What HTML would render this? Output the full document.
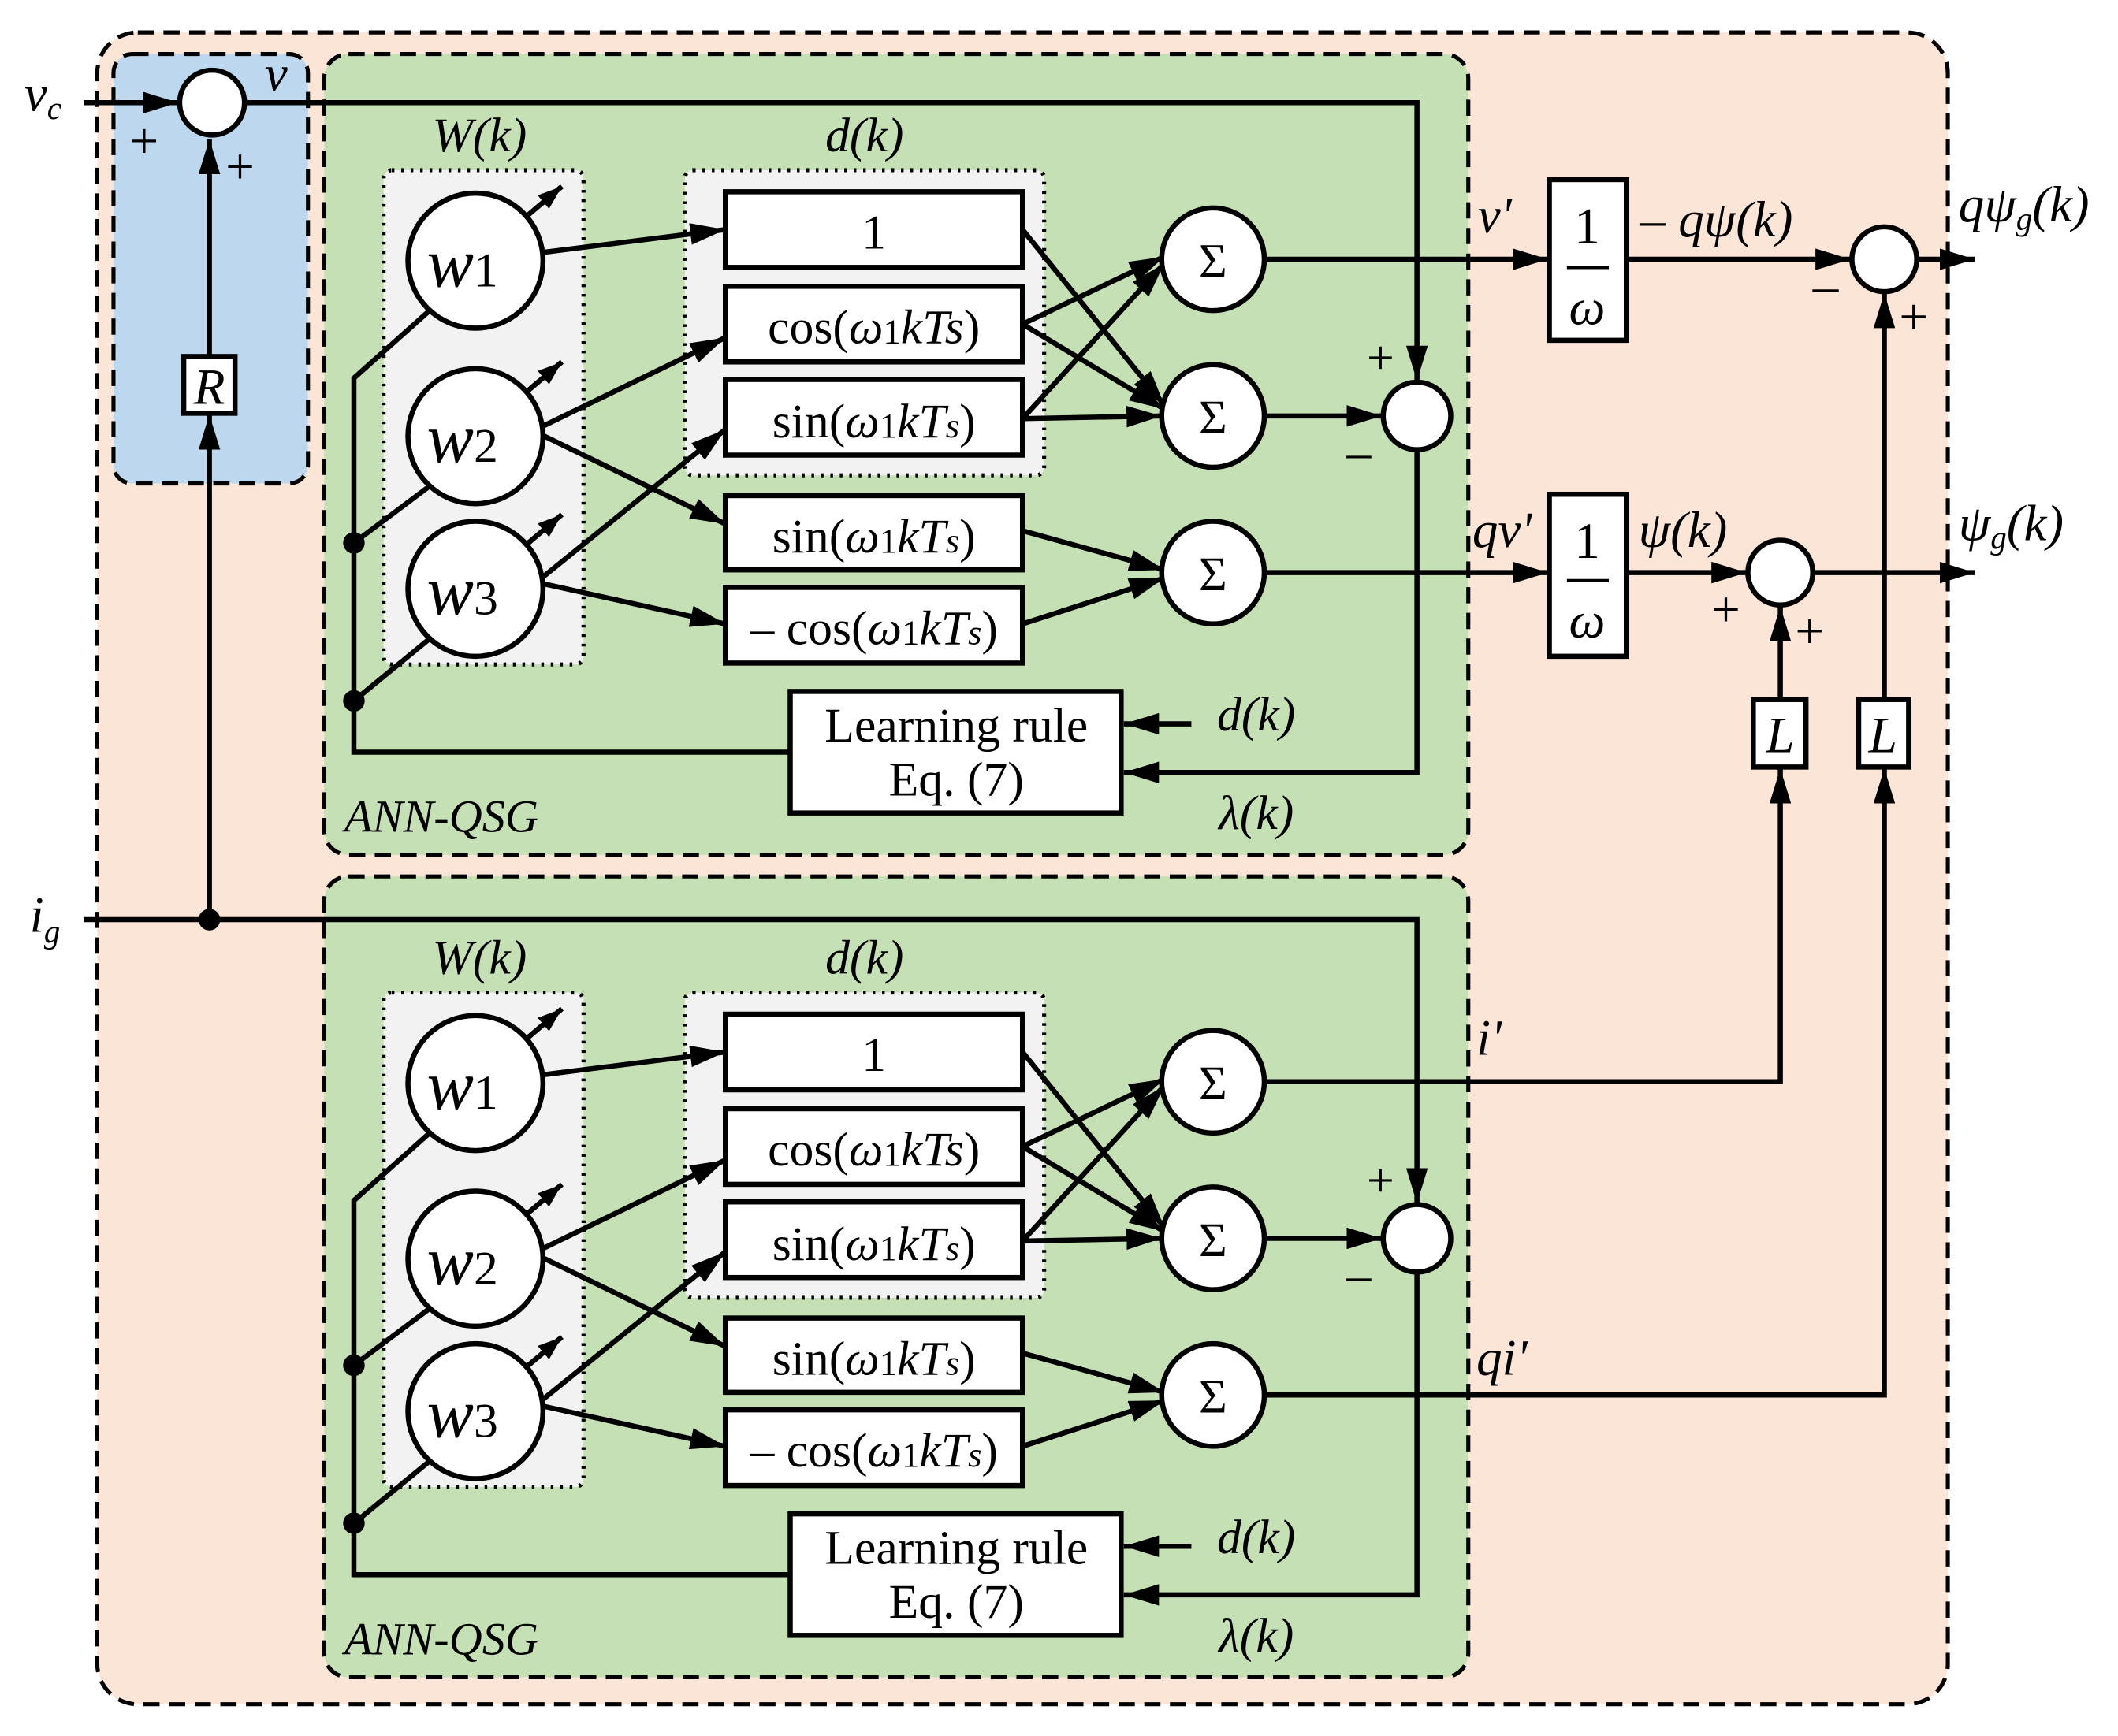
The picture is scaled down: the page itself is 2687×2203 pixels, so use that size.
<!DOCTYPE html>
<html><head><meta charset="utf-8"><style>
html,body{margin:0;padding:0;background:#fff}
svg{display:block}
text{font-family:"Liberation Serif",serif;fill:#000}
.it{font-style:italic}
</style></head><body>
<svg width="2687" height="2203" viewBox="0 0 1568 1285.5" preserveAspectRatio="none" xmlns="http://www.w3.org/2000/svg">
<defs>
<marker id="ar" viewBox="0 0 26 16" refX="26" refY="8" markerWidth="26" markerHeight="16" markerUnits="userSpaceOnUse" orient="auto"><path d="M0,0 L26,8 L0,16 z" fill="#000"/></marker>
<marker id="sm" viewBox="0 0 18 13" refX="18" refY="6.5" markerWidth="18" markerHeight="13" markerUnits="userSpaceOnUse" orient="auto"><path d="M0,0 L18,6.5 L0,13 z" fill="#000"/></marker>
<g id="ann">
  <rect x="240" y="40" width="847" height="593" rx="18" fill="#c5e0b4" stroke="#000" stroke-width="3" stroke-dasharray="12,7"/>
  <text x="355" y="112" font-size="36" class="it" text-anchor="middle">W(k)</text>
  <text x="640" y="112" font-size="36" class="it" text-anchor="middle">d(k)</text>
  <rect x="284" y="126" width="148" height="366" rx="6" fill="#f2f2f2" stroke="#000" stroke-width="3" stroke-dasharray="2,5"/>
  <rect x="507" y="126" width="266" height="226" rx="6" fill="#f2f2f2" stroke="#000" stroke-width="3" stroke-dasharray="2,5"/>
  <g stroke="#000" stroke-width="3.8" fill="none">
    <polyline points="318,230 262,280 262,557 585,557"/>
    <line x1="318" y1="360" x2="262" y2="402"/>
    <line x1="318" y1="473" x2="262" y2="519"/>
    <line x1="401" y1="187" x2="537" y2="170" marker-end="url(#ar)"/>
    <line x1="401" y1="316" x2="537" y2="250" marker-end="url(#ar)"/>
    <line x1="401" y1="322" x2="537" y2="388" marker-end="url(#ar)"/>
    <line x1="401" y1="428" x2="537" y2="318" marker-end="url(#ar)"/>
    <line x1="401" y1="432" x2="537" y2="462" marker-end="url(#ar)"/>
    <line x1="757" y1="170" x2="862" y2="300" marker-end="url(#ar)"/>
    <line x1="757" y1="240" x2="862" y2="190" marker-end="url(#ar)"/>
    <line x1="757" y1="240" x2="862" y2="303" marker-end="url(#ar)"/>
    <line x1="757" y1="310" x2="862" y2="195" marker-end="url(#ar)"/>
    <line x1="757" y1="310" x2="860" y2="308" marker-end="url(#ar)"/>
    <line x1="757" y1="393" x2="862" y2="422" marker-end="url(#ar)"/>
    <line x1="757" y1="462" x2="862" y2="428" marker-end="url(#ar)"/>
    <line x1="936" y1="308" x2="1023" y2="308" marker-end="url(#ar)"/>
    <line x1="882" y1="536" x2="832" y2="536" marker-end="url(#ar)"/>
    <polyline points="1049,333 1049,572 832,572" marker-end="url(#ar)"/>
    <line x1="390" y1="160" x2="416" y2="138" marker-end="url(#sm)"/>
    <line x1="390" y1="290" x2="416" y2="268" marker-end="url(#sm)"/>
    <line x1="390" y1="403" x2="416" y2="381" marker-end="url(#sm)"/>
  </g>
  <g fill="#fff" stroke="#000" stroke-width="3.8">
    <circle cx="352" cy="193" r="50"/><circle cx="352" cy="323" r="50"/><circle cx="352" cy="436" r="50"/>
    <rect x="537" y="142" width="220" height="56"/>
    <rect x="537" y="212" width="220" height="56"/>
    <rect x="537" y="281" width="220" height="56"/>
    <rect x="537" y="367" width="220" height="55"/>
    <rect x="537" y="435" width="220" height="56"/>
    <circle cx="898" cy="192" r="38"/><circle cx="898" cy="308" r="38"/><circle cx="898" cy="424" r="38"/>
    <circle cx="1049" cy="308" r="25"/>
    <rect x="585" y="512" width="245" height="90"/>
  </g>
  <circle cx="262" cy="402" r="8" fill="#000"/><circle cx="262" cy="519" r="8" fill="#000"/>
  <g font-size="52" class="it"><text x="316" y="212">w<tspan font-size="36" font-style="normal">1</tspan></text>
  <text x="316" y="342">w<tspan font-size="36" font-style="normal">2</tspan></text>
  <text x="316" y="455">w<tspan font-size="36" font-style="normal">3</tspan></text></g>
  <g font-size="36" text-anchor="middle">
    <text x="647" y="184">1</text>
    <text x="647" y="254">cos(<tspan class="it">ω</tspan><tspan font-size="26">1</tspan><tspan class="it">kTs</tspan>)</text>
    <text x="647" y="324">sin(<tspan class="it">ω</tspan><tspan font-size="26">1</tspan><tspan class="it">kT<tspan font-size="26">s</tspan></tspan>)</text>
    <text x="647" y="409">sin(<tspan class="it">ω</tspan><tspan font-size="26">1</tspan><tspan class="it">kT<tspan font-size="26">s</tspan></tspan>)</text>
    <text x="647" y="477">– cos(<tspan class="it">ω</tspan><tspan font-size="26">1</tspan><tspan class="it">kT<tspan font-size="26">s</tspan></tspan>)</text>
    <text x="898" y="205">Σ</text><text x="898" y="321">Σ</text><text x="898" y="437">Σ</text>
    <text x="708" y="549">Learning rule</text>
    <text x="708" y="589">Eq. (7)</text>
    <text x="930" y="541" class="it">d(k)</text>
    <text x="930" y="614" class="it">λ(k)</text>
    <text x="1022" y="277">+</text>
    <text x="1006" y="347">–</text>
  </g>
  <text x="255" y="616" font-size="34" class="it">ANN-QSG</text>
</g>
</defs>
<rect x="72" y="24" width="1370" height="1238" rx="30" fill="#fbe5d6" stroke="#000" stroke-width="3" stroke-dasharray="12,7"/>
<rect x="84" y="40" width="144" height="318" rx="14" fill="#bdd7ee" stroke="#000" stroke-width="3" stroke-dasharray="12,7"/>
<use href="#ann"/>
<use href="#ann" transform="translate(0,609)"/>
<g stroke="#000" stroke-width="3.8" fill="none">
  <line x1="62" y1="76" x2="132" y2="76" marker-end="url(#ar)"/>
  <polyline points="181,76 1049,76 1049,282" marker-end="url(#ar)"/>
  <line x1="155" y1="264" x2="155" y2="103" marker-end="url(#ar)"/>
  <line x1="155" y1="681" x2="155" y2="307" marker-end="url(#ar)"/>
  <polyline points="62,681 1049,681 1049,891" marker-end="url(#ar)"/>
  <line x1="936" y1="192" x2="1146" y2="192" marker-end="url(#ar)"/>
  <line x1="936" y1="424" x2="1146" y2="424" marker-end="url(#ar)"/>
  <line x1="1204" y1="192" x2="1370" y2="192" marker-end="url(#ar)"/>
  <line x1="1419" y1="192" x2="1462" y2="192" marker-end="url(#ar)"/>
  <line x1="1204" y1="424" x2="1293" y2="424" marker-end="url(#ar)"/>
  <line x1="1342" y1="424" x2="1462" y2="424" marker-end="url(#ar)"/>
  <line x1="1318" y1="518" x2="1318" y2="449" marker-end="url(#ar)"/>
  <line x1="1395" y1="518" x2="1395" y2="217" marker-end="url(#ar)"/>
  <polyline points="936,801 1318,801 1318,569" marker-end="url(#ar)"/>
  <polyline points="936,1033 1395,1033 1395,569" marker-end="url(#ar)"/>
</g>
<circle cx="155" cy="681" r="8" fill="#000"/>
<g fill="#fff" stroke="#000" stroke-width="3.8">
  <circle cx="157" cy="76" r="24"/>
  <rect x="136" y="264" width="38" height="42"/>
  <rect x="1147" y="133" width="57" height="119"/>
  <rect x="1147" y="366" width="57" height="120"/>
  <circle cx="1395" cy="192" r="24"/>
  <circle cx="1318" cy="424" r="24"/>
  <rect x="1298" y="518" width="39" height="50"/>
  <rect x="1376" y="518" width="37" height="50"/>
</g>
<g stroke="#000" stroke-width="2.5"><line x1="1160" y1="198" x2="1191" y2="198"/><line x1="1160" y1="430" x2="1191" y2="430"/></g>
<g font-size="38">
  <text x="18" y="82" class="it">v<tspan font-size="24" dy="6">c</tspan></text>
  <text x="196" y="67" class="it">v</text>
  <text x="96" y="117">+</text><text x="167" y="136">+</text>
  <text x="155" y="299" class="it" text-anchor="middle">R</text>
  <text x="22" y="690" class="it">i<tspan font-size="24" dy="8">g</tspan></text>
  <text x="1094" y="172" class="it">v'</text>
  <text x="1090" y="405" class="it">qv'</text>
  <text x="1093" y="781" class="it">i'</text>
  <text x="1093" y="1018" class="it">qi'</text>
  <text x="1175" y="180" text-anchor="middle">1</text>
  <text x="1175" y="240" class="it" text-anchor="middle">ω</text>
  <text x="1175" y="413" text-anchor="middle">1</text>
  <text x="1175" y="472" class="it" text-anchor="middle">ω</text>
  <text x="1214" y="175">– <tspan class="it">qψ(k)</tspan></text>
  <text x="1213" y="405" class="it">ψ(k)</text>
  <text x="1450" y="164" class="it">qψ<tspan font-size="24" dy="6">g</tspan><tspan dy="-6">(k)</tspan></text>
  <text x="1450" y="400" class="it">ψ<tspan font-size="24" dy="6">g</tspan><tspan dy="-6">(k)</tspan></text>
  <text x="1342" y="224">–</text><text x="1406" y="247">+</text>
  <text x="1267" y="464">+</text><text x="1329" y="480">+</text>
  <text x="1318" y="557" class="it" text-anchor="middle">L</text>
  <text x="1394" y="557" class="it" text-anchor="middle">L</text>
</g>
</svg>
</body></html>
